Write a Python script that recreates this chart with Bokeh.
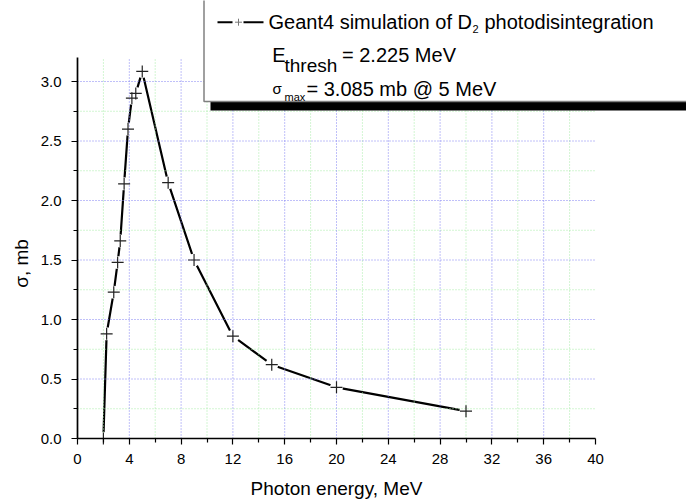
import math
from bokeh.plotting import figure
from bokeh.models import Range1d, FixedTicker, Label, LinearAxis, PrintfTickFormatter
from bokeh.embed import file_html
from bokeh.resources import INLINE

# ---------------- data ----------------
energy_mev = [2.0, 2.25, 2.8, 3.1, 3.3, 3.6, 3.9, 4.2, 4.5, 5.0, 7.0, 9.0, 12.0, 15.0, 20.0, 30.0]
sigma_mb = [0.0, 0.88, 1.23, 1.48, 1.66, 2.14, 2.60, 2.86, 2.90, 3.085, 2.15, 1.50, 0.86, 0.62, 0.43, 0.23]

x_major_ticks = [0, 4, 8, 12, 16, 20, 24, 28, 32, 36, 40]
x_minor_ticks = [2, 6, 10, 14, 18, 22, 26, 30, 34, 38]
y_major_ticks = [0.0, 0.5, 1.0, 1.5, 2.0, 2.5, 3.0]
y_minor_ticks = [0.25, 0.75, 1.25, 1.75, 2.25, 2.75]
x_limits = (0, 40)
y_limits = (0, 3.2)

legend_title = "Geant4 simulation of D"
legend_sub = "2"
legend_tail = "photodisintegration"
x_title = "Photon energy, MeV"
y_title = "σ, mb"

# ---------------- geometry ----------------
W, H = 686, 501
X0_PX, Y0_PX = 77, 438          # where (0, 0) sits on the canvas
PX_PER_X = 12.95
PX_PER_Y = 119.0
FONT = "Liberation Sans"
TXT_DY = 7                       # baseline correction for labels


def dx(px):
    return (px - X0_PX) / PX_PER_X


def dy(py):
    return (Y0_PX - py) / PX_PER_Y


p = figure(width=W, height=H, output_backend="svg", toolbar_location=None,
           x_range=Range1d(dx(0), dx(W)), y_range=Range1d(dy(H), dy(0)),
           x_axis_type=None, y_axis_type=None, min_border=0)
p.outline_line_color = None
p.background_fill_color = "white"
p.border_fill_color = "white"

# ---------------- axes ----------------
xa = LinearAxis(ticker=FixedTicker(ticks=x_major_ticks, minor_ticks=x_minor_ticks),
                bounds=x_limits, fixed_location=y_limits[0])
ya = LinearAxis(ticker=FixedTicker(ticks=y_major_ticks, minor_ticks=y_minor_ticks),
                bounds=y_limits, fixed_location=x_limits[0])
ya.formatter = PrintfTickFormatter(format="%.1f")
for ax, so in ((xa, 9), (ya, 10)):
    ax.axis_line_color = "black"
    ax.axis_line_width = 1.7
    ax.major_tick_line_color = "black"
    ax.minor_tick_line_color = "black"
    ax.major_tick_line_width = 1.2
    ax.minor_tick_line_width = 1.2
    ax.major_tick_in = 0
    ax.major_tick_out = 6
    ax.minor_tick_in = 0
    ax.minor_tick_out = 4
    ax.major_label_standoff = so
    ax.major_label_text_font = FONT
    ax.major_label_text_font_size = "15px"
    ax.major_label_text_color = "black"
p.add_layout(xa, "below")
p.add_layout(ya, "left")

# ---------------- curve ----------------
p.line(energy_mev, sigma_mb, line_color="black", line_width=2.2)
p.scatter(energy_mev, sigma_mb, marker="circle", size=13, fill_color="white", line_color=None)

# ---------------- grid ----------------
def vgrid(xs, color):
    p.segment(x0=xs, y0=[y_limits[0]] * len(xs), x1=xs, y1=[y_limits[1]] * len(xs),
              line_color=color, line_width=1, line_dash="1 2")


def hgrid(ys, color):
    p.segment(x0=[x_limits[0]] * len(ys), y0=ys, x1=[x_limits[1]] * len(ys), y1=ys,
              line_color=color, line_width=1, line_dash="1 2")


vgrid(x_minor_ticks, "#a6eca6")
hgrid(y_minor_ticks, "#a6eca6")
vgrid([v for v in x_major_ticks if x_limits[0] < v < x_limits[1]], "#8080f2")
hgrid([v for v in y_major_ticks if v > y_limits[0]], "#8080f2")

p.scatter(energy_mev, sigma_mb, marker="cross", size=12, line_color="#222222", line_width=1.2)

# ---------------- legend box ----------------
p.quad(left=[dx(210)], right=[dx(720)], top=[dy(4)], bottom=[dy(110)],
       fill_color="black", line_color=None)
p.quad(left=[dx(203.5)], right=[dx(720)], top=[dy(-3)], bottom=[dy(101)],
       fill_color="white", line_color="#808080", line_width=1.5)
p.segment(x0=[dx(217), dx(243)], y0=[dy(21.7)] * 2, x1=[dx(232), dx(263)], y1=[dy(21.7)] * 2,
          line_color="black", line_width=2)
p.scatter([dx(238)], [dy(21.7)], marker="cross", size=7, line_color="#777777", line_width=1)


def lab(px, py, text, size, dyc=TXT_DY, **kw):
    p.add_layout(Label(x=dx(px), y=dy(py - dyc), text=text, text_font=FONT,
                       text_font_size=size, text_color="black",
                       text_baseline=kw.pop("baseline", "alphabetic"), **kw))


lab(268, 28.5, legend_title, "20px")
lab(472, 35, legend_sub, "11px")
lab(484, 28.5, legend_tail, "20px")

lab(271.7, 61.7, "E", "20px")
lab(284, 71.7, "thresh", "19px")
lab(341.5, 61.7, "= 2.225 MeV", "20px")

lab(272, 95, "σ", "15px")
lab(284, 103, "max", "11px")
lab(306, 95, "= 3.085 mb @ 5 MeV", "20px")

# ---------------- axis titles ----------------
lab(X0_PX + sum(x_limits) / 2 * PX_PER_X, 493, x_title, "19px", dyc=5, text_align="center")
p.add_layout(Label(x=dx(21), y=dy(263), text=y_title, text_font=FONT,
                   text_font_size="19px", text_color="black", text_align="center",
                   text_baseline="middle", angle=math.pi / 2))

open("out.html", "w").write(file_html(p, INLINE))
